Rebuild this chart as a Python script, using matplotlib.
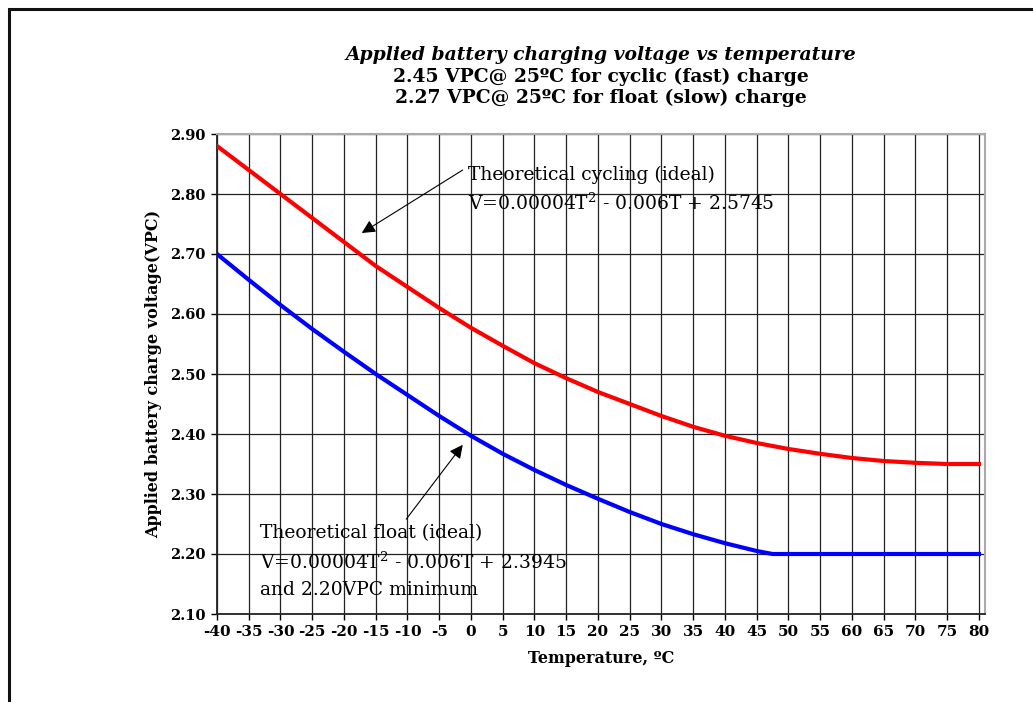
import matplotlib
matplotlib.use('Agg')
import matplotlib.pyplot as plt
from matplotlib.patches import Rectangle

plt.rcParams['font.family'] = ['DejaVu Serif']
plt.rcParams['mathtext.fontset'] = 'custom'
plt.rcParams['mathtext.rm'] = 'DejaVu Serif'

# data
temps = list(range(-40, 85, 5))
cycling_vpc = [2.88, 2.84, 2.80, 2.76, 2.72, 2.68, 2.645, 2.61, 2.577, 2.547,
               2.518, 2.493, 2.47, 2.45, 2.43, 2.412, 2.397, 2.385, 2.375, 2.367,
               2.36, 2.355, 2.352, 2.35, 2.35]
float_temps = list(range(-40, 50, 5)) + [47.5] + list(range(50, 85, 5))
float_vpc = [2.70, 2.657, 2.615, 2.575, 2.537, 2.50, 2.465, 2.43, 2.397, 2.367,
             2.34, 2.315, 2.292, 2.27, 2.25, 2.233, 2.218, 2.205, 2.20,
             2.20, 2.20, 2.20, 2.20, 2.20, 2.20, 2.20]
y_ticks = [2.10, 2.20, 2.30, 2.40, 2.50, 2.60, 2.70, 2.80, 2.90]

W, H = 1033, 702
fig = plt.figure(figsize=(W / 100, H / 100), dpi=100)

# outer frame (only top and left edges fall inside the image)
fig.add_artist(Rectangle((9 / W, -0.5), 2, 0.5 + (H - 9) / H, transform=fig.transFigure,
                         fill=False, edgecolor='#111111', linewidth=2.2))

ax = fig.add_axes([217 / W, (H - 614) / H, (985 - 217) / W, (614 - 134) / H])

ax.plot(temps, cycling_vpc, color='#ff0000', linewidth=3, zorder=3)
ax.plot(float_temps, float_vpc, color='#0000ff', linewidth=3, zorder=3)

ax.set_xlim(-40, 80.95)
ax.set_ylim(2.10, 2.90)
ax.set_xticks(temps)
ax.set_xticklabels([str(t) for t in temps])
ax.set_yticks(y_ticks)
ax.set_yticklabels([f'{v:.2f}' for v in y_ticks])
ax.grid(True, color='#222222', linewidth=0.9)
ax.set_axisbelow(True)
ax.tick_params(axis='both', direction='out', length=4, width=1, pad=4)
ax.tick_params(axis='x', labelsize=11)
ax.tick_params(axis='y', labelsize=10.5)
for lab in ax.get_xticklabels() + ax.get_yticklabels():
    lab.set_fontweight('bold')

for s in ['left', 'bottom']:
    ax.spines[s].set_color('#222222')
    ax.spines[s].set_linewidth(1.3)
for s in ['top', 'right']:
    ax.spines[s].set_color('#aaaaaa')
    ax.spines[s].set_linewidth(1.5)

ax.set_xlabel('Temperature, ºC', fontsize=11.5, fontweight='bold', labelpad=8)
ax.set_ylabel('Applied battery charge voltage(VPC)', fontsize=11.5, fontweight='bold', labelpad=6)

# titles
cx = (217 + 985) / 2 / W
fig.text(cx, 1 - 55 / H, 'Applied battery charging voltage vs temperature', ha='center', va='center',
         fontsize=13.5, fontweight='bold', style='italic')
fig.text(cx, 1 - 77 / H, '2.45 VPC@ 25ºC for cyclic (fast) charge', ha='center', va='center',
         fontsize=13.5, fontweight='bold')
fig.text(cx, 1 - 98 / H, '2.27 VPC@ 25ºC for float (slow) charge', ha='center', va='center',
         fontsize=13.5, fontweight='bold')

# annotations
arrow = dict(arrowstyle='-|>', color='black', lw=0.8, mutation_scale=20, shrinkA=0, shrinkB=0)
ax.annotate('', xy=(-17.2, 2.735), xytext=(-1.3, 2.84), arrowprops=arrow)
ax.text(-0.5, 2.832, 'Theoretical cycling (ideal)', fontsize=13.5, va='center', ha='left')
ax.text(-0.5, 2.785, 'V=0.00004T$^{2}$ - 0.006T + 2.5745', fontsize=13.5, va='center', ha='left')

ax.annotate('', xy=(-1.3, 2.382), xytext=(-10.2, 2.258), arrowprops=arrow)
ax.text(-33.2, 2.235, 'Theoretical float (ideal)', fontsize=13.5, va='center', ha='left')
ax.text(-33.2, 2.187, 'V=0.00004T$^{2}$ - 0.006T + 2.3945', fontsize=13.5, va='center', ha='left')
ax.text(-33.2, 2.140, 'and 2.20VPC minimum', fontsize=13.5, va='center', ha='left')

fig.savefig('out.png', dpi=100)
plt.close(fig)
